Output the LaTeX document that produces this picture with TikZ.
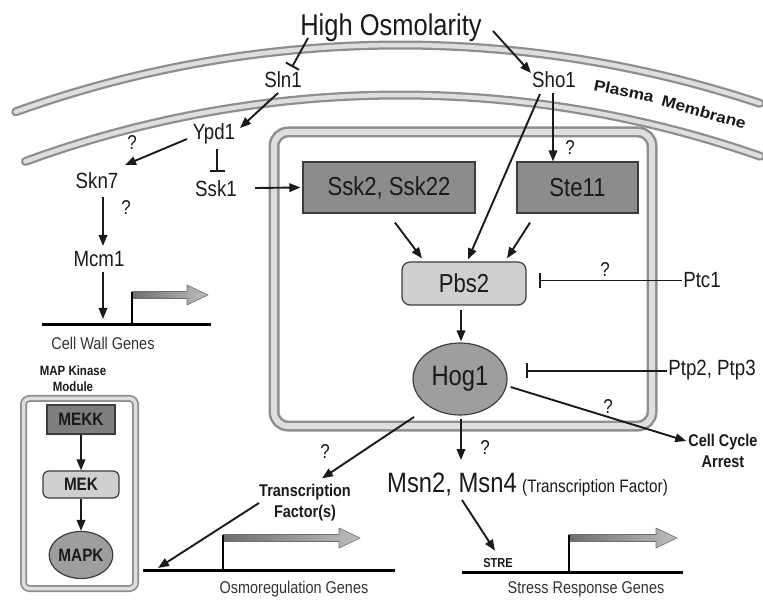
\documentclass[tikz,border=0pt]{standalone}
\usepackage{fontspec}
\setmainfont{Liberation Sans}[FakeStretch=0.85]
\newfontfamily\plasmafont{Liberation Sans}[FakeStretch=1.12]
\usetikzlibrary{arrows.meta,calc,shapes.geometric}
\definecolor{ink}{HTML}{1A1A1A}
\definecolor{memdark}{HTML}{8E8E8E}
\definecolor{memlight}{HTML}{DEDEDE}
\definecolor{boxdark}{HTML}{8C8C8C}
\definecolor{boxlight}{HTML}{CFCFCF}
\definecolor{ellgray}{HTML}{9E9E9E}
\definecolor{edgec}{HTML}{3C3C3C}
\definecolor{genetext}{HTML}{333333}
\definecolor{promdark}{HTML}{6E6E6E}
\definecolor{promlight}{HTML}{BDBDBD}
\newcommand{\myfs}[1]{\fontsize{#1}{#1}\selectfont}
\newcommand{\genearrow}[3]{%
  \path[draw=promdark, line width=0.6pt, left color=promdark, right color=promlight]
  ({#1},{#2-3.5}) -- ({#3-21},{#2-3.5}) -- ({#3-21},{#2-10}) -- ({#3},{#2})
  -- ({#3-21},{#2+10}) -- ({#3-21},{#2+3.5}) -- ({#1},{#2+3.5}) -- cycle;}
\tikzset{
  lbl/.style={inner sep=0pt, text=ink, anchor=base},
  t22/.style={lbl, font=\myfs{22}},
  qm/.style={inner sep=0pt, text=ink, font=\myfs{20}},
  pm/.style={inner sep=0pt, text=ink, font=\plasmafont\bfseries\fontsize{15.5}{15.5}\selectfont},
  arr/.style={-{Triangle[length=11pt,width=8.5pt]}, line width=1.9pt, draw=ink},
  inh/.style={-{Bar[width=15pt,line width=1.9pt]}, line width=1.9pt, draw=ink},
  gene/.style={line width=3pt, draw=black},
  darkbox/.style={draw=edgec, line width=1.2pt, fill=boxdark, inner sep=0pt, text=ink},
  lightbox/.style={draw=edgec, line width=1.2pt, fill=boxlight, inner sep=0pt, rounded corners=8pt, text=ink},
  ellbox/.style={draw=edgec, line width=1.2pt, fill=ellgray, ellipse, inner sep=0pt, text=ink},
}
\begin{document}
\begin{tikzpicture}[x=1pt,y=-1pt]
\useasboundingbox (0,0) rectangle (763,601);
\fill[white] (0,0) rectangle (763,601);

% membranes
\foreach \w/\c in {9/memdark,4.5/memlight}{
  \draw[line width=\w pt, color=\c, line cap=round]
    plot[domain=-19.7:18.4, samples=120] ({400+1140*sin(\x)},{1185-1140*cos(\x)});
  \draw[line width=\w pt, color=\c, line cap=round]
    plot[domain=-20.1:19.3, samples=120] ({400+1090*sin(\x)},{1185-1090*cos(\x)});
}
\node[pm, rotate=-11.6] (pm1) at (624,91) {Plasma};
\node[pm, rotate=-15.8] (pm2) at (704,112) {Membrane};

% compartments
\draw[line width=11pt, memdark, rounded corners=14pt] (274,132) rectangle (652,426);
\draw[line width=6pt, memlight, rounded corners=14pt] (274,132) rectangle (652,426);
\draw[line width=7pt, memdark, rounded corners=6pt] (23.5,398.5) rectangle (135.5,588.5);
\draw[line width=3.5pt, memlight, rounded corners=6pt] (23.5,398.5) rectangle (135.5,588.5);

% text nodes
\node[lbl, font=\myfs{30}] (ho) at (391,36) {High Osmolarity};
\node[t22] (sln1) at (283,88) {Sln1};
\node[t22] (sho1) at (554,88) {Sho1};
\node[t22] (ypd1) at (214,140) {Ypd1};
\node[t22] (skn7) at (97,189) {Skn7};
\node[t22] (ssk1) at (216,197) {Ssk1};
\node[t22] (mcm1) at (99,267) {Mcm1};
\node[t22] (ptc1) at (702,288) {Ptc1};
\node[t22] (ptp) at (712,376) {Ptp2, Ptp3};
\node[inner sep=0pt, text=ink, align=center, font=\fontsize{17}{20.5}\selectfont\bfseries] (cca) at (723,451) {Cell Cycle\\Arrest};
\node[inner sep=0pt, text=ink, align=center, font=\fontsize{17}{21}\selectfont\bfseries] (tf) at (305,503) {Transcription\\Factor(s)};
\node[lbl, font=\myfs{28}] (msn) at (452,492) {Msn2, Msn4};
\node[inner sep=0pt, text=ink, anchor=base west, font=\myfs{18}] (msntf) at ($(msn.base east)+(5,0)$) {(Transcription Factor)};
\node[lbl, font=\myfs{13}\bfseries] (stre) at (498,567) {STRE};
\node[lbl, font=\myfs{17}, text=genetext] (cwg) at (103,350) {Cell Wall Genes};
\node[lbl, font=\myfs{17}, text=genetext] (og) at (294,593) {Osmoregulation Genes};
\node[lbl, font=\myfs{17}, text=genetext] (srg) at (586,593) {Stress Response Genes};
\node[inner sep=0pt, text=ink, align=center, font=\fontsize{13.5}{16}\selectfont\bfseries] (mkm) at (73,379) {MAP Kinase\\Module};

% boxes
\node[darkbox, minimum width=172pt, minimum height=51pt, font=\myfs{26}] (ssk2) at (389,187.5) {Ssk2, Ssk22};
\node[darkbox, minimum width=121pt, minimum height=51pt, font=\myfs{26}] (ste11) at (577.5,187.5) {Ste11};
\node[lightbox, minimum width=124pt, minimum height=43pt, font=\myfs{26}] (pbs2) at (464,283.5) {Pbs2};
\node[ellbox, minimum width=94pt, minimum height=72pt, font=\myfs{28}] (hog1) at (460,379) {Hog1};
\node[darkbox, fill=boxdark!90!black, minimum width=68pt, minimum height=29pt, font=\myfs{18}\bfseries] (mekk) at (81,419.5) {MEKK};
\node[lightbox, rounded corners=6pt, minimum width=76pt, minimum height=27pt, font=\myfs{18}\bfseries] (mek) at (81,484.5) {MEK};
\node[ellbox, minimum width=63pt, minimum height=47pt, font=\myfs{18}\bfseries] (mapk) at (81,555) {MAPK};

% question marks
\node[qm] (q1) at (132,143) {?};
\node[qm] (q2) at (126,208) {?};
\node[qm] (q3) at (570,148) {?};
\node[qm] (q4) at (605,270) {?};
\node[qm] (q5) at (608,407) {?};
\node[qm] (q6) at (325,452) {?};
\node[qm] (q7) at (485,448) {?};

% genes
\draw[gene] (42,325) -- (211,325);
\draw[gene] (143,570) -- (395,570);
\draw[gene] (462,572) -- (683,572);
\genearrow{132}{295}{208}
\genearrow{223}{538}{360}
\genearrow{569}{538}{677}
\draw[line width=2.6pt] (132,325) -- (132,292);
\draw[line width=2.6pt] (223,570) -- (223,535);
\draw[line width=2.6pt] (569,572) -- (569,535);
\coordinate (cwgpt) at (103,319);
\coordinate (osmopt) at (158,568);

% connectors
\draw[inh] ($(ho.base)+(-83,2)$) -- ($(sln1.base)+(9,-21)$);
\draw[arr] ($(ho.base)+(102,-5)$) -- ($(sho1.base)+(-23,-15)$);
\draw[arr] ($(sln1.base)+(-5,5)$) -- ($(ypd1.base)+(26,-12)$);
\draw[arr] ($(ypd1.base)+(-27,-1)$) -- ($(skn7.base)+(28,-24)$);
\draw[inh] ($(ypd1.base)+(3,9)$) -- ($(ssk1.base)+(1,-25)$);
\draw[arr] ($(skn7.base)+(6,8)$) -- ($(mcm1.base)+(4,-21)$);
\draw[arr] ($(mcm1.base)+(4,5)$) -- (cwgpt);
\draw[arr] ($(ssk1.base)+(39,-9)$) -- ($(ssk2.west)+(-2,0)$);
\draw[arr] ($(sho1.base)+(-1,5)$) -- ($(ste11.north)+(-24.5,0)$);
\draw[arr] ($(sho1.base)+(-14,6)$) -- ($(pbs2.north)+(4,-2)$);
\draw[arr] ($(ssk2.south)+(6,9)$) -- ($(pbs2.north)+(-42,-3)$);
\draw[arr] ($(ste11.south)+(-47.5,9)$) -- ($(pbs2.north)+(43,-3)$);
\coordinate (pbs2r) at ($(pbs2.east)+(12,0)$);
\draw[inh] ($(ptc1.west)+(-1,0)$) -- (pbs2r |- ptc1.west);
\draw[arr] ($(pbs2.south)+(-3,4)$) -- ($(hog1.north)+(1,-1)$);
\coordinate (hog1r) at ($(hog1.east)+(18,0)$);
\draw[inh] ($(ptp.west)+(-1,0)$) -- (hog1r |- ptp.west);
\draw[arr] ($(hog1.east)+(3,8)$) -- ($(cca.west)+(-2,-10)$);
\draw[arr] ($(hog1.center)+(-46,38)$) -- ($(tf.north)+(17,-6)$);
\draw[arr] ($(hog1.south)+(1,3)$) -- ($(msn.base)+(9,-32)$);
\draw[arr] (tf.west) -- (osmopt);
\draw[arr] ($(msn.base)+(10,8)$) -- ($(stre.north)+(-3,-7)$);
\draw[arr] (mekk) -- (mek);
\draw[arr] (mek) -- (mapk);
\end{tikzpicture}
\end{document}
